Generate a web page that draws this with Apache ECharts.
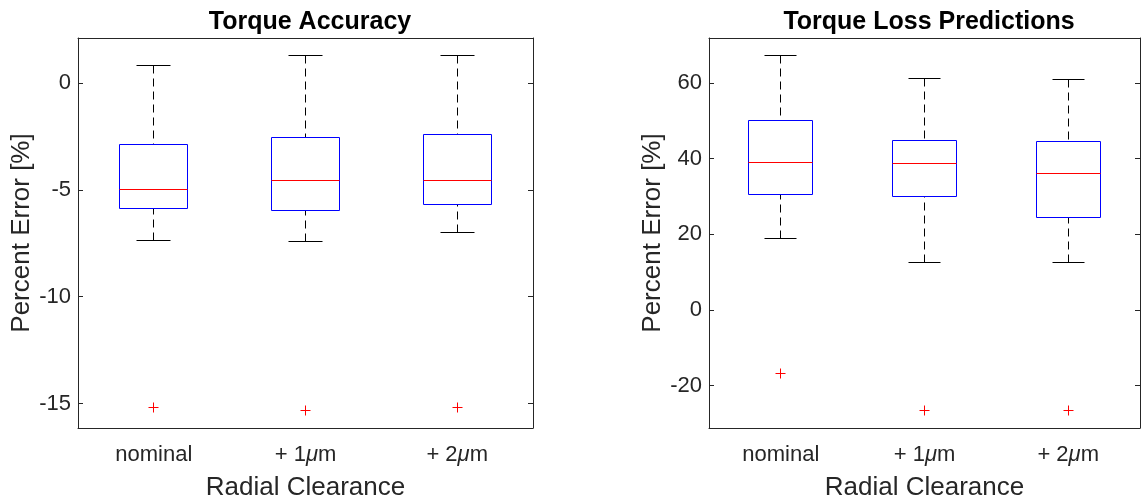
<!DOCTYPE html>
<html>
<head>
<meta charset="utf-8">
<script src="https://cdn.jsdelivr.net/npm/echarts@6/dist/echarts.min.js"></script>
<style>
  html, body { margin: 0; padding: 0; background: #ffffff; }
  #chart { width: 1141px; height: 500px; }
</style>
</head>
<body>
<div id="chart"></div>
<script>
// Radial clearance groups
const categories = ['nominal', '+ 1μm', '+ 2μm'];

// Box statistics per group: [lower whisker, Q1, median, Q3, upper whisker]
const accuracyStats = [
  [-7.36, -5.87, -5.00, -2.89, 0.81],
  [-7.41, -5.96, -4.55, -2.54, 1.29],
  [-6.99, -5.69, -4.56, -2.42, 1.28]
];
const accuracyOutliers = [-15.2, -15.3, -15.2];

const lossStats = [
  [18.8, 30.65, 39.1, 50.1, 67.3],
  [12.6, 29.9, 38.8, 44.9, 61.1],
  [12.5, 24.4, 36.2, 44.6, 60.8]
];
const lossOutliers = [-16.9, -26.6, -26.7];

// Y tick labels
const accuracyTicks = [-15, -10, -5, 0];
const lossTicks = [-20, 0, 20, 40, 60];

// Y ranges
const accuracyRange = [-16.14, 2.10];
const lossRange = [-31.2, 71.9];

const FONT = '"Liberation Sans", Arial, Helvetica, sans-serif';
const AXIS_COLOR = '#262626';
const TICK_SIZE = 22;
const NAME_SIZE = 26;

const px = v => Math.round(v - 0.5) + 0.5;

// Box with dashed whiskers, end caps and a median line
function boxItem(params, api) {
  const i = api.value(0);
  const lo = api.coord([i, api.value(1)]);
  const q1 = api.coord([i, api.value(2)]);
  const med = api.coord([i, api.value(3)]);
  const q3 = api.coord([i, api.value(4)]);
  const hi = api.coord([i, api.value(5)]);
  const band = api.size([1, 0])[0];
  const cx = px(lo[0]);
  const bw = band * 0.224;
  const cw = band * 0.112;
  const yLo = px(lo[1]), yQ1 = px(q1[1]), yMed = px(med[1]), yQ3 = px(q3[1]), yHi = px(hi[1]);
  const x0 = px(cx - bw), w = Math.round(2 * bw);
  const dash = { stroke: '#000000', lineWidth: 1, lineDash: [8, 5] };
  const solid = { stroke: '#000000', lineWidth: 1 };
  return {
    type: 'group',
    children: [
      { type: 'line', shape: { x1: cx, y1: yHi, x2: cx, y2: yQ3 }, style: dash },
      { type: 'line', shape: { x1: cx, y1: yLo, x2: cx, y2: yQ1 }, style: dash },
      { type: 'line', shape: { x1: px(cx - cw), y1: yHi, x2: px(cx + cw), y2: yHi }, style: solid },
      { type: 'line', shape: { x1: px(cx - cw), y1: yLo, x2: px(cx + cw), y2: yLo }, style: solid },
      { type: 'rect', shape: { x: x0, y: yQ3, width: w, height: yQ1 - yQ3 },
        style: { fill: 'none', stroke: '#0000ff', lineWidth: 1 } },
      { type: 'line', shape: { x1: x0, y1: yMed, x2: x0 + w, y2: yMed },
        style: { stroke: '#ff0000', lineWidth: 1 }, z2: 10 }
    ]
  };
}

// Outlier drawn as a '+' marker
function plusItem(params, api) {
  const p = api.coord([api.value(0), api.value(1)]);
  const x = px(p[0]), y = px(p[1]);
  const s = 5;
  const st = { stroke: '#ff0000', lineWidth: 1 };
  return {
    type: 'group',
    children: [
      { type: 'line', shape: { x1: x - s, y1: y, x2: x + s, y2: y }, style: st },
      { type: 'line', shape: { x1: x, y1: y - s, x2: x, y2: y + s }, style: st }
    ]
  };
}

const catLabel = v => v.replace('μ', '{mu|μ}');

function makeXAxes(gridIndex) {
  return [
    {
      type: 'category', gridIndex, position: 'bottom', data: categories,
      axisLine: { onZero: false, lineStyle: { color: AXIS_COLOR, width: 1 } },
      axisTick: { inside: true, alignWithLabel: true, length: 5, lineStyle: { color: AXIS_COLOR } },
      axisLabel: {
        interval: 0, formatter: catLabel, color: AXIS_COLOR, fontFamily: FONT, fontSize: TICK_SIZE, margin: 16,
        rich: { mu: { fontStyle: 'italic', fontFamily: FONT, fontSize: TICK_SIZE, color: AXIS_COLOR } }
      },
      name: 'Radial Clearance', nameLocation: 'middle', nameGap: 47,
      nameTextStyle: { color: AXIS_COLOR, fontFamily: FONT, fontSize: NAME_SIZE },
      splitLine: { show: false }
    },
    {
      type: 'category', gridIndex, position: 'top', data: categories,
      axisLine: { onZero: false, lineStyle: { color: AXIS_COLOR, width: 1 } },
      axisTick: { inside: true, alignWithLabel: true, length: 5, lineStyle: { color: AXIS_COLOR } },
      axisLabel: { show: false },
      splitLine: { show: false }
    }
  ];
}

function makeYAxes(gridIndex, range, ticks) {
  return [
    {
      type: 'value', gridIndex, position: 'left', min: range[0], max: range[1],
      axisLine: { show: true, onZero: false, lineStyle: { color: AXIS_COLOR, width: 1 } },
      axisTick: { show: true, inside: true, length: 5, customValues: ticks, lineStyle: { color: AXIS_COLOR } },
      axisLabel: { customValues: ticks, color: AXIS_COLOR, fontFamily: FONT, fontSize: TICK_SIZE, margin: 7 },
      name: 'Percent Error [%]', nameLocation: 'middle', nameRotate: 90, nameGap: 43,
      nameTextStyle: { color: AXIS_COLOR, fontFamily: FONT, fontSize: NAME_SIZE },
      splitLine: { show: false }
    },
    {
      type: 'value', gridIndex, position: 'right', min: range[0], max: range[1],
      axisLine: { show: true, onZero: false, lineStyle: { color: AXIS_COLOR, width: 1 } },
      axisTick: { show: true, inside: true, length: 5, customValues: ticks, lineStyle: { color: AXIS_COLOR } },
      axisLabel: { show: false },
      splitLine: { show: false }
    }
  ];
}

const withIndex = arr => arr.map((v, i) => Array.isArray(v) ? [i].concat(v) : [i, v]);

const chart = echarts.init(document.getElementById('chart'), null, { renderer: 'canvas' });
chart.setOption({
  animation: false,
  backgroundColor: '#ffffff',
  title: [
    { text: 'Torque Accuracy', left: 305, top: 5, textAlign: 'center',
      textStyle: { color: '#000000', fontFamily: FONT, fontSize: 25, fontWeight: 'bold' } },
    { text: 'Torque Loss Predictions', left: 924, top: 5, textAlign: 'center',
      textStyle: { color: '#000000', fontFamily: FONT, fontSize: 25, fontWeight: 'bold' } }
  ],
  grid: [
    { left: 78, right: 608, top: 38, bottom: 72, containLabel: false, outerBoundsMode: 'none' },
    { left: 709, right: 1, top: 38, bottom: 72, containLabel: false, outerBoundsMode: 'none' }
  ],
  xAxis: makeXAxes(0).concat(makeXAxes(1)),
  yAxis: makeYAxes(0, accuracyRange, accuracyTicks).concat(makeYAxes(1, lossRange, lossTicks)),
  series: [
    { type: 'custom', xAxisIndex: 0, yAxisIndex: 0, renderItem: boxItem,
      encode: { x: 0, y: [1, 2, 3, 4, 5] }, data: withIndex(accuracyStats), clip: false },
    { type: 'custom', xAxisIndex: 0, yAxisIndex: 0, renderItem: plusItem,
      encode: { x: 0, y: 1 }, data: withIndex(accuracyOutliers) },
    { type: 'custom', xAxisIndex: 2, yAxisIndex: 2, renderItem: boxItem,
      encode: { x: 0, y: [1, 2, 3, 4, 5] }, data: withIndex(lossStats), clip: false },
    { type: 'custom', xAxisIndex: 2, yAxisIndex: 2, renderItem: plusItem,
      encode: { x: 0, y: 1 }, data: withIndex(lossOutliers) }
  ]
});
</script>
</body>
</html>
